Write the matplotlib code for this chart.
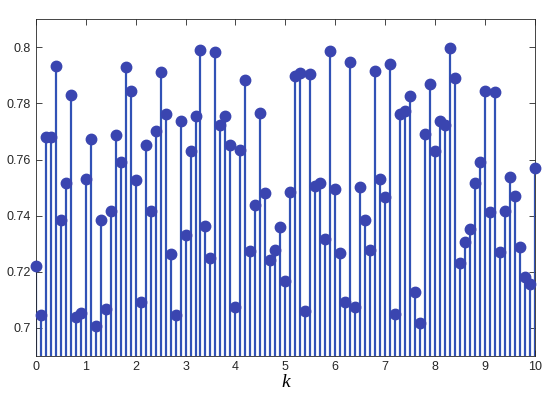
import numpy as np
import matplotlib
matplotlib.use('Agg')
import matplotlib.pyplot as plt

plt.rcParams['font.family'] = ['Liberation Sans', 'DejaVu Sans']

k = np.round(np.arange(0, 101) * 0.1, 1)
values = [
    0.7222, 0.7047, 0.7679, 0.7679, 0.7935, 0.7383, 0.7518, 0.7829, 0.7039, 0.7053,
    0.7531, 0.7672, 0.7007, 0.7383, 0.7067, 0.7417, 0.7686, 0.7590, 0.7930, 0.7845,
    0.7528, 0.7092, 0.7653, 0.7417, 0.7701, 0.7911, 0.7762, 0.7263, 0.7047, 0.7737,
    0.7331, 0.7632, 0.7757, 0.7989, 0.7364, 0.7248, 0.7983, 0.7722, 0.7755, 0.7652,
    0.7075, 0.7633, 0.7885, 0.7273, 0.7437, 0.7767, 0.7480, 0.7241, 0.7276, 0.7361,
    0.7168, 0.7486, 0.7897, 0.7909, 0.7060, 0.7905, 0.7504, 0.7515, 0.7318, 0.7986,
    0.7494, 0.7267, 0.7092, 0.7947, 0.7075, 0.7501, 0.7384, 0.7278, 0.7915, 0.7531,
    0.7466, 0.7942, 0.7051, 0.7761, 0.7773, 0.7826, 0.7127, 0.7018, 0.7690, 0.7868,
    0.7630, 0.7738, 0.7723, 0.7999, 0.7889, 0.7233, 0.7305, 0.7352, 0.7515, 0.7590,
    0.7845, 0.7413, 0.7842, 0.7270, 0.7418, 0.7539, 0.7470, 0.7290, 0.7180, 0.7155,
    0.7571,
]

fig = plt.figure(figsize=(5.5, 3.99), dpi=100)
ax = fig.add_axes([0.065, 0.108, 0.9077, 0.8436])

markerline, stemlines, baseline = ax.stem(k, values, bottom=0.69)
plt.setp(stemlines, color='#3152b6', linewidth=1.6)
plt.setp(markerline, color='#3a45b0', markersize=7.5, clip_on=False, zorder=3)
plt.setp(baseline, visible=False)

ax.set_xlim(0, 10)
ax.set_ylim(0.69, 0.81)
ax.set_xticks(range(0, 11))
ax.set_yticks([0.7, 0.72, 0.74, 0.76, 0.78, 0.8])
ax.set_yticklabels(['0.7', '0.72', '0.74', '0.76', '0.78', '0.8'])
ax.tick_params(direction='in', top=True, right=True, length=4, width=0.6,
               colors='#262626', labelsize=9)
for s in ax.spines.values():
    s.set_color('#262626')
    s.set_linewidth(0.6)
ax.set_xlabel('k', fontsize=14, style='italic',
              family=['Liberation Serif', 'DejaVu Serif'], labelpad=1)

fig.savefig('out.png', dpi=100)
